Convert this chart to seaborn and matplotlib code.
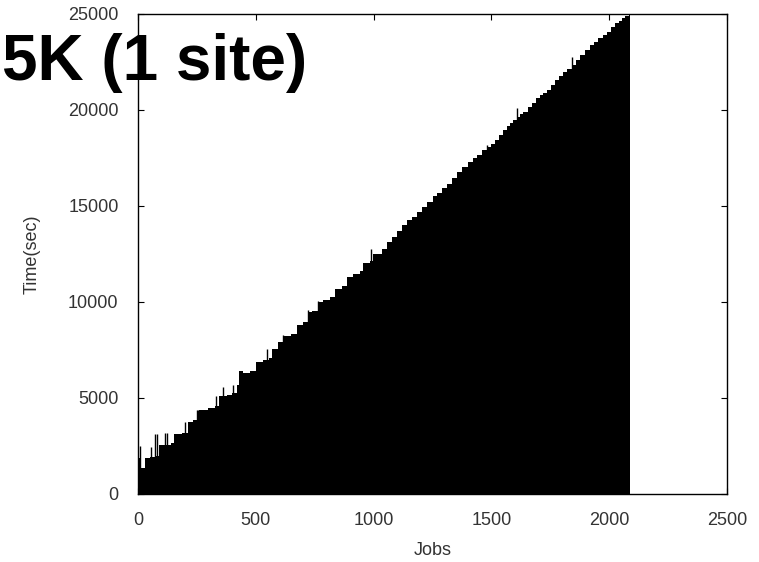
import numpy as np
import pandas as pd
import matplotlib
matplotlib.use("Agg")
import matplotlib.pyplot as plt
import seaborn as sns

# ---- data (job index where a level starts, time in sec) ----
step_jobs = [0, 12, 30, 50, 72, 90, 140, 152, 185, 214, 235, 260, 299, 327, 345,
             376, 398, 419, 428, 447, 475, 500, 532, 555, 567, 595, 617, 648, 673,
             702, 720, 737, 765, 787, 815, 836, 864, 886, 914, 942, 956, 985, 999,
             1034, 1056, 1077, 1098, 1120, 1141, 1162, 1183, 1205, 1225, 1250, 1268,
             1289, 1310, 1331, 1352, 1374, 1402, 1420, 1438, 1460, 1480, 1497, 1515,
             1533, 1551, 1565, 1579, 1593, 1607, 1622, 1636, 1655, 1671, 1690, 1706,
             1720, 1735, 1752, 1770, 1788, 1806, 1823, 1841, 1858, 1876, 1897, 1919,
             1936, 1954, 1972, 1990, 2008, 2025, 2040, 2054, 2068, 2082]
step_times = [1900, 1350, 1900, 1950, 2000, 2550, 2650, 3130, 3200, 3770, 3850, 4380,
              4460, 4600, 5080, 5150, 5270, 5700, 6400, 6320, 6400, 6850, 7000, 7100,
              7550, 7900, 8250, 8330, 8800, 8980, 9500, 9520, 10000, 10100, 10280,
              10660, 10830, 11320, 11460, 11630, 12010, 12150, 12500, 12750, 13140,
              13400, 13700, 14000, 14270, 14450, 14700, 14950, 15225, 15500, 15660,
              15920, 16150, 16440, 16750, 17050, 17310, 17500, 17660, 17900, 18090,
              18250, 18440, 18700, 18960, 19150, 19310, 19500, 19650, 19800, 19910,
              20150, 20350, 20600, 20780, 20900, 21040, 21300, 21560, 21780, 22000,
              22150, 22340, 22600, 22860, 23100, 23390, 23550, 23730, 23900, 24080,
              24300, 24510, 24650, 24770, 24870, 24950]
last_job = 2089

# isolated longer jobs sticking out above the staircase
spike_jobs = [10, 56, 71, 81, 114, 121, 199, 249, 256, 330, 362, 405, 546, 617, 720,
              765, 989, 1480, 1607, 1841]
spike_times = [2500, 2460, 3125, 3125, 3170, 3170, 3770, 4400, 4400, 5100, 5590, 5680,
               7535, 8280, 9580, 10030, 12740, 18180, 20090, 22780]

x_ticks = [0, 500, 1000, 1500, 2000, 2500]
y_ticks = [0, 5000, 10000, 15000, 20000, 25000]

title_text = "5K (1 site)"
x_label = "Jobs"
y_label = "Time(sec)"

# ---- plot ----
sns.set_style("ticks")
plt.rcParams['font.family'] = ['Liberation Sans', 'DejaVu Sans']
text_col = '#333333'

fig = plt.figure(figsize=(7.59, 5.62), dpi=100)
ax = fig.add_axes([138 / 759, 1 - 494 / 562, (727 - 138) / 759, (494 - 14) / 562])

df = pd.DataFrame({"job": step_jobs, "time": step_times})
edges = step_jobs + [last_job]
sns.histplot(data=df, x="job", weights="time", bins=edges, stat="count",
             element="bars", fill=True, color="black", alpha=1, linewidth=0, ax=ax)

ax.vlines(spike_jobs, 0, spike_times, colors="black", linewidth=1.0)

ax.set_xlim(0, 2500)
ax.set_ylim(0, 25000)
ax.set_xticks(x_ticks)
ax.set_yticks(y_ticks)
ax.set_xticklabels([str(v) for v in x_ticks])
ax.set_yticklabels([str(v) for v in y_ticks])

for s in ax.spines.values():
    s.set_visible(True)
    s.set_color('black')
    s.set_linewidth(1.0)

ax.tick_params(axis='both', direction='in', length=4, width=0.8, colors='black',
               labelcolor=text_col, labelsize=13, top=True, right=True)
ax.tick_params(axis='y', pad=14)
ax.tick_params(axis='x', pad=13)

ax.set_xlabel(x_label, fontsize=13, color=text_col, labelpad=9)
ax.set_ylabel(y_label, fontsize=13, color=text_col, labelpad=20)

fig.text(0.002, 1 - 80 / 562, title_text, fontsize=46, fontweight='bold',
         color='black', ha='left', va='baseline')

fig.savefig("out.png", dpi=100)
